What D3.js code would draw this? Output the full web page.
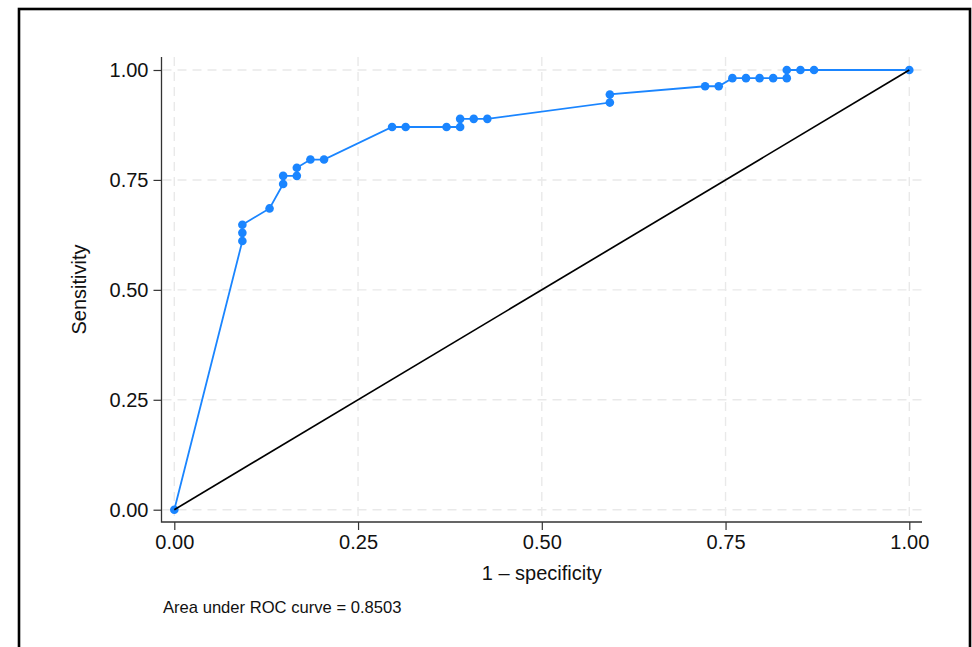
<!DOCTYPE html>
<html>
<head>
<meta charset="utf-8">
<script src="https://cdn.jsdelivr.net/npm/d3@7"></script>
<style>
  html, body { margin: 0; padding: 0; background: #fff; }
  svg { display: block; font-family: "Liberation Sans", Arial, Helvetica, sans-serif; }
</style>
</head>
<body>
<div id="chart"></div>
<script>
// ROC curve points (1 - specificity, sensitivity)
const fpr = [0, 0.0926, 0.0926, 0.0926, 0.1296, 0.1481, 0.1481, 0.1667, 0.1667, 0.1852, 0.2037,
  0.2963, 0.3148, 0.3704, 0.3889, 0.3889, 0.4074, 0.4259, 0.5926, 0.5926, 0.7222, 0.7407,
  0.7593, 0.7778, 0.7963, 0.8148, 0.8333, 0.8333, 0.8519, 0.8704, 1];
const tpr = [0, 0.6111, 0.6296, 0.6481, 0.6852, 0.7407, 0.7593, 0.7593, 0.7778, 0.7963, 0.7963,
  0.8704, 0.8704, 0.8704, 0.8704, 0.8889, 0.8889, 0.8889, 0.9259, 0.9444, 0.9630, 0.9630,
  0.9815, 0.9815, 0.9815, 0.9815, 0.9815, 1, 1, 1, 1];
const refLine = [0, 1];
const tickVals = [0, 0.25, 0.5, 0.75, 1];
const xTitle = "1 \u2013 specificity";
const yTitle = "Sensitivity";
const note = "Area under ROC curve = 0.8503";

const W = 972, H = 647;
const box = { left: 161.5, right: 922, top: 57, bottom: 522 };
const blue = "#1a85ff";

const svg = d3.select("#chart").append("svg")
  .attr("width", W).attr("height", H);

// outer border
svg.append("rect")
  .attr("x", 19).attr("y", 9).attr("width", 951).attr("height", 660)
  .attr("fill", "none").attr("stroke", "#000").attr("stroke-width", 2.6);

const x = d3.scaleLinear().domain([0, 1]).range([174.3, 909.3]);
const y = d3.scaleLinear().domain([0, 1]).range([509.7, 70]);

// gridlines
svg.append("g").selectAll("line")
  .data(tickVals).enter().append("line")
  .attr("x1", box.left + 1).attr("x2", box.right)
  .attr("y1", d => y(d)).attr("y2", d => y(d))
  .attr("stroke", "#e9e9e9").attr("stroke-width", 1.4)
  .attr("stroke-dasharray", "9,6");
svg.append("g").selectAll("line")
  .data(tickVals).enter().append("line")
  .attr("y1", box.top).attr("y2", box.bottom - 1)
  .attr("x1", d => x(d)).attr("x2", d => x(d))
  .attr("stroke", "#e9e9e9").attr("stroke-width", 1.4)
  .attr("stroke-dasharray", "9,6");

// axes
const fmt = d3.format(".2f");
const yAxis = svg.append("g")
  .attr("transform", `translate(${box.left},0)`)
  .call(d3.axisLeft(y).tickValues(tickVals).tickFormat(fmt).tickSize(8).tickPadding(5));
const xAxis = svg.append("g")
  .attr("transform", `translate(0,${box.bottom})`)
  .call(d3.axisBottom(x).tickValues(tickVals).tickFormat(fmt).tickSize(8).tickPadding(5));
[yAxis, xAxis].forEach(g => {
  g.select(".domain").remove();
  g.selectAll(".tick line").attr("stroke", "#333").attr("stroke-width", 1.2);
  g.selectAll(".tick text").attr("fill", "#111").attr("font-size", 20)
    .style("font-family", "'Liberation Sans', Arial, sans-serif");
});
svg.append("path")
  .attr("d", `M${box.left},${box.top}V${box.bottom}H${box.right}`)
  .attr("fill", "none").attr("stroke", "#333").attr("stroke-width", 1.3);

// ROC curve
const pts = fpr.map((v, i) => [v, tpr[i]]);
svg.append("path")
  .datum(pts)
  .attr("d", d3.line().x(d => x(d[0])).y(d => y(d[1])))
  .attr("fill", "none").attr("stroke", blue).attr("stroke-width", 1.8);
svg.append("g").selectAll("circle")
  .data(pts).enter().append("circle")
  .attr("cx", d => x(d[0])).attr("cy", d => y(d[1]))
  .attr("r", 4.3).attr("fill", blue);

// reference line
svg.append("line")
  .attr("x1", x(refLine[0])).attr("y1", y(refLine[0]))
  .attr("x2", x(refLine[1])).attr("y2", y(refLine[1]))
  .attr("stroke", "#000").attr("stroke-width", 1.7);

// titles
svg.append("text")
  .attr("x", (box.left + box.right) / 2).attr("y", 580)
  .attr("text-anchor", "middle").attr("font-size", 20).attr("fill", "#111")
  .text(xTitle);
svg.append("text")
  .attr("transform", `translate(86,${(box.top + box.bottom) / 2}) rotate(-90)`)
  .attr("text-anchor", "middle").attr("font-size", 20).attr("fill", "#111")
  .text(yTitle);
svg.append("text")
  .attr("x", 163).attr("y", 613)
  .attr("font-size", 16.6).attr("fill", "#111")
  .text(note);
</script>
</body>
</html>
